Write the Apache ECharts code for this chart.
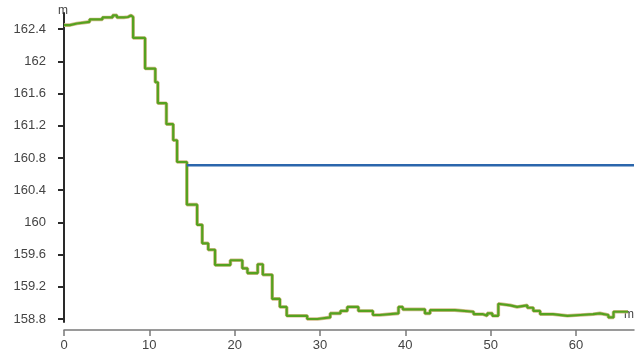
<!DOCTYPE html>
<html>
<head>
<meta charset="utf-8">
<script src="https://cdn.jsdelivr.net/npm/echarts@6/dist/echarts.min.js"></script>
<style>html,body{margin:0;padding:0;background:#fff;}#c{width:643px;height:355px;}</style>
</head>
<body>
<div id="c"></div>
<script>
// step positions (x) and levels (m) of the measured series
var levelX = [0, 0.7, 1.5, 3.0, 4.5, 5.7, 6.2, 7.0, 7.5, 7.85, 8.1, 9.5, 10.7, 11.0, 12.0, 12.8, 13.25, 14.4, 15.6, 16.2, 16.9, 17.7, 19.5, 20.9, 21.5, 22.7, 23.3, 24.4, 25.3, 26.1, 28.5, 29.7, 31.2, 32.4, 33.2, 34.5, 36.2, 37.0, 39.2, 39.7, 42.3, 42.9, 45.8, 48.0, 49.1, 49.6, 50.2, 50.9, 51.0, 52.3, 53.1, 54.3, 55.0, 55.8, 57.3, 59.0, 60.5, 62.0, 62.8, 63.8, 64.4, 66.1];
var levelY = [162.45, 162.47, 162.49, 162.52, 162.545, 162.57, 162.545, 162.55, 162.57, 162.55, 162.29, 161.91, 161.74, 161.48, 161.22, 161.02, 160.75, 160.22, 159.97, 159.74, 159.66, 159.47, 159.53, 159.43, 159.37, 159.48, 159.35, 159.05, 158.95, 158.84, 158.80, 158.82, 158.87, 158.90, 158.95, 158.90, 158.85, 158.87, 158.95, 158.92, 158.87, 158.91, 158.89, 158.86, 158.84, 158.87, 158.84, 158.99, 158.97, 158.95, 158.97, 158.94, 158.90, 158.86, 158.84, 158.85, 158.86, 158.87, 158.85, 158.82, 158.89, 158.89];
// reference level
var refX = [14.4, 66.8];
var refY = [160.71, 160.71];
// tick labels
var xTicks = [0, 10, 20, 30, 40, 50, 60];
var yTicks = [158.8, 159.2, 159.6, 160, 160.4, 160.8, 161.2, 161.6, 162, 162.4];

function pairs(xs, ys) { return xs.map(function (x, i) { return [x, ys[i]]; }); }
var levelData = pairs(levelX, levelY);
var refData = pairs(refX, refY);

var font = 'Liberation Sans, Arial, sans-serif';
var chart = echarts.init(document.getElementById('c'), null, {renderer: 'canvas'});
chart.setOption({
  animation: false,
  backgroundColor: '#ffffff',
  grid: {left: 64, right: 9, top: 13, bottom: 33},
  xAxis: {
    type: 'value', min: 0, max: 66.8, offset: 8,
    name: 'm', nameLocation: 'end', nameGap: -10,
    nameTextStyle: {color: '#444', fontFamily: font, fontSize: 12, verticalAlign: 'bottom', align: 'left', padding: [0, 0, 9, 0]},
    axisLine: {show: true, lineStyle: {color: '#7a7a7a', width: 1.5}},
    axisTick: {show: true, length: 6, lineStyle: {color: '#7a7a7a', width: 1.5}, customValues: xTicks},
    axisLabel: {color: '#444', fontFamily: font, fontSize: 13, margin: 9, customValues: xTicks},
    splitLine: {show: false}
  },
  yAxis: {
    type: 'value', min: 158.763, max: 162.6, offset: 10,
    name: 'm', nameLocation: 'end', nameGap: 0,
    nameTextStyle: {color: '#444', fontFamily: font, fontSize: 12, align: 'left', padding: [0, 0, -4, -6]},
    axisLine: {show: true, lineStyle: {color: '#2a2a2a', width: 2}},
    axisTick: {show: true, length: 6, lineStyle: {color: '#2a2a2a', width: 2}, customValues: yTicks},
    axisLabel: {color: '#444', fontFamily: font, fontSize: 13, margin: 8, customValues: yTicks},
    splitLine: {show: false}
  },
  series: [
    {type: 'line', step: 'end', data: levelData, symbol: 'none', lineStyle: {color: '#d2ba8a', width: 3.6}, z: 2},
    {type: 'line', step: 'end', data: levelData, symbol: 'none', lineStyle: {color: '#55a21f', width: 2.2}, z: 3},
    {type: 'line', data: refData, symbol: 'none', lineStyle: {color: '#2b66ac', width: 2.6}, z: 4}
  ]
});
</script>
</body>
</html>
